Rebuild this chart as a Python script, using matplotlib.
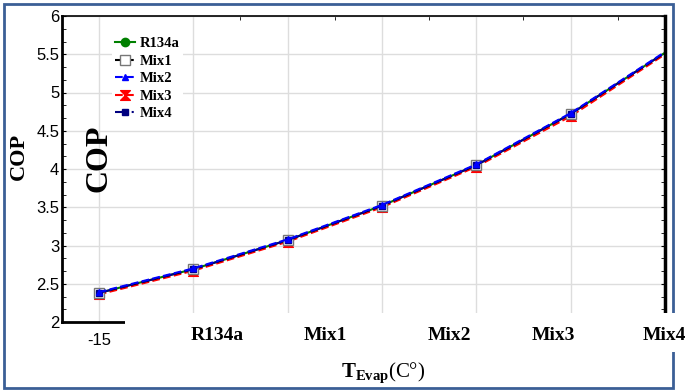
import matplotlib
matplotlib.use("Agg")
import matplotlib.pyplot as plt
from matplotlib.patches import Rectangle
from matplotlib.path import Path
from matplotlib.ticker import MultipleLocator, AutoMinorLocator, FixedLocator

plt.rcParams['font.family'] = ['Liberation Sans', 'DejaVu Sans']
plt.rcParams['mathtext.fontset'] = 'custom'
plt.rcParams['mathtext.rm'] = 'Liberation Serif'
plt.rcParams['mathtext.bf'] = 'Liberation Serif:bold'

# data
t_evap = [-15, -10, -5, 0, 5, 10, 15]
r134a = [2.38, 2.69, 3.07, 3.52, 4.05, 4.72, 5.52]
mix1 = [2.38, 2.69, 3.07, 3.52, 4.05, 4.72, 5.52]
mix2 = [2.39, 2.70, 3.08, 3.53, 4.06, 4.73, 5.53]
mix3 = [2.36, 2.67, 3.05, 3.50, 4.03, 4.69, 5.50]
mix4 = [2.38, 2.69, 3.07, 3.52, 4.05, 4.72, 5.52]
cat_labels = ['R134a', 'Mix1', 'Mix2', 'Mix3', 'Mix4']
cat_x = [217, 325, 449, 553, 664]   # pixel centres of the category labels

W, H = 688, 392
fig = plt.figure(figsize=(W / 100, H / 100), dpi=100)
ax = fig.add_axes([62 / W, 1 - 322 / H, (665 - 62) / W, (322 - 16) / H])

hourglass = Path([(-1, 1), (1, 1), (-1, -1), (1, -1), (-1, 1)],
                 [Path.MOVETO, Path.LINETO, Path.LINETO, Path.LINETO, Path.CLOSEPOLY])

mk = dict(markevery=slice(0, 6), lw=1.5)
ax.plot(t_evap, r134a, '-', color='green', marker='o', ms=6, label='R134a', **mk)
ax.plot(t_evap, mix3, '--', color='red', marker=hourglass, ms=7, label='Mix3', **mk)
ax.plot(t_evap, mix1, '--', color='black', marker='s', ms=7, mfc='white', mec='#777777',
        mew=1, label='Mix1', **mk)
ax.plot(t_evap, mix4, '-.', color='navy', marker='s', ms=5, label='Mix4', **mk)
ax.plot(t_evap, mix2, '--', color='blue', marker='^', ms=4, label='Mix2', **mk)

ax.set_xlim(-16.95, 15)
ax.set_ylim(2, 6)
ax.yaxis.set_major_locator(MultipleLocator(0.5))
ax.yaxis.set_minor_locator(AutoMinorLocator(3))
ax.set_yticks([2, 2.5, 3, 3.5, 4, 4.5, 5, 5.5, 6])
ax.set_yticklabels(['2', '2.5', '3', '3.5', '4', '4.5', '5', '5.5', '6'])
ax.set_xticks(t_evap)
ax.set_xticklabels(['-15'] + [''] * 6)
ax.xaxis.set_minor_locator(FixedLocator([-7.5, -2.5, 2.5, 7.5, 12.5]))
ax.tick_params(axis='both', which='both', direction='in', labelsize=12)
ax.tick_params(axis='x', which='major', length=0, pad=8)
ax.tick_params(axis='x', which='minor', top=True, bottom=False, length=3)
ax.tick_params(axis='y', which='major', length=3, pad=2, right=True)
ax.tick_params(axis='y', which='minor', length=3, right=True)
ax.grid(True, which='major', color='#dddddd', lw=1)

for side in ['left', 'bottom']:
    ax.spines[side].set_linewidth(2)
ax.spines['right'].set_linewidth(2.5)
ax.spines['top'].set_linewidth(1.2)

handles, labels = ax.get_legend_handles_labels()
order = [0, 2, 4, 1, 3]
leg = ax.legend([handles[i] for i in order], [labels[i] for i in order],
                loc='upper left', bbox_to_anchor=(112 / W, 1 - 34 / H),
                bbox_transform=fig.transFigure, frameon=True, framealpha=1,
                edgecolor='none', handlelength=1.4, handletextpad=0.3,
                labelspacing=0.3, borderpad=0.2, borderaxespad=0,
                prop={'family': 'Liberation Serif', 'weight': 'bold', 'size': 10.5})
leg.get_frame().set_linewidth(0)

# outer frame
fig.add_artist(Rectangle((4 / W, 1 - 388 / H), (673 - 4) / W, (388 - 4) / H,
                         transform=fig.transFigure, fill=False, ec='#3b5f96', lw=2, zorder=2))
# white band hiding the lower axis edge
fig.add_artist(Rectangle((125 / W, 1 - 352 / H), (W - 125) / W, (352 - 313) / H,
                         transform=fig.transFigure, fc='white', ec='none', zorder=3))

for lab, px in zip(cat_labels, cat_x):
    fig.text(px / W, 1 - 336 / H, lab, ha='center', va='center', zorder=4,
             family='Liberation Serif', weight='bold', fontsize=14)

fig.text(383 / W, 1 - 373 / H, r'$\mathbf{T_{Evap}}$(C°)', ha='center', va='center',
         family='Liberation Serif', fontsize=15, zorder=4)
fig.text(19 / W, 1 - 156 / H, 'COP', rotation=90, ha='center', va='center',
         family='Liberation Serif', weight='bold', fontsize=16)
ax.text(99 / W, 1 - 158 / H, 'COP', rotation=90, ha='center', va='center',
        family='Liberation Serif', weight='bold', fontsize=23, transform=fig.transFigure)

fig.savefig('out.png', dpi=100)
